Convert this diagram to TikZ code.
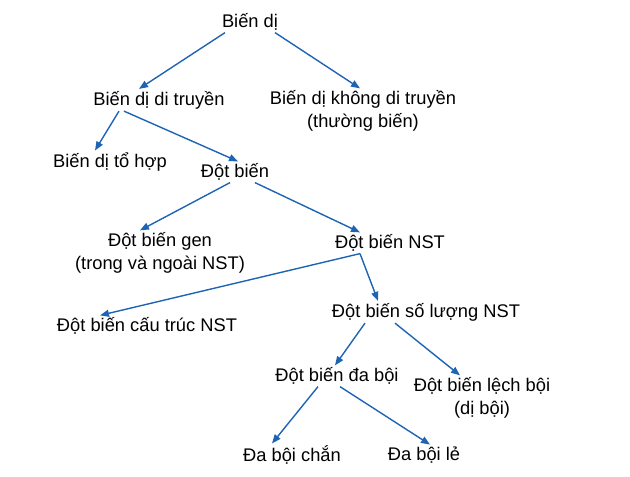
\documentclass[tikz,border=0pt]{standalone}
\usepackage{fontspec}
\setmainfont{Liberation Sans}
\usetikzlibrary{arrows.meta}
\definecolor{ablue}{RGB}{30,100,180}
\begin{document}
\begin{tikzpicture}[x=1pt,y=-1pt,
  lbl/.style={font=\fontsize{18.3}{23}\selectfont,align=center,inner sep=2pt,text=black},
  arr/.style={draw=ablue,line width=1.4pt,-{Triangle[length=9pt,width=7pt]}}]
\useasboundingbox (0,0) rectangle (630,477);
\node[lbl] (bd) at (250,22) {Biến dị};
\node[lbl] (dt) at (159,100) {Biến dị di truyền};
\node[lbl] (kdt) at (363,111) {Biến dị không di truyền\\(thường biến)};
\node[lbl] (th) at (110,162) {Biến dị tổ hợp};
\node[lbl] (db) at (235,172) {Đột biến};
\node[lbl] (gen) at (160,253) {Đột biến gen\\(trong và ngoài NST)};
\node[lbl] (nst) at (390,243) {Đột biến NST};
\node[lbl] (ct) at (147,326) {Đột biến cấu trúc NST};
\node[lbl] (sl) at (426,312) {Đột biến số lượng NST};
\node[lbl] (dab) at (337,376) {Đột biến đa bội};
\node[lbl] (lb) at (482,398) {Đột biến lệch bội\\(dị bội)};
\node[lbl] (ch) at (292,455) {Đa bội chắn};
\node[lbl] (le) at (424,455) {Đa bội lẻ};
\draw[arr] ([xshift=-25pt]bd.south) -- ([xshift=-20pt]dt.north);
\draw[arr] ([xshift=25pt]bd.south) -- ([xshift=-3pt]kdt.north);
\draw[arr] ([xshift=-40pt]dt.south) -- ([xshift=-15pt]th.north);
\draw[arr] ([xshift=-35pt]dt.south) -- ([xshift=3pt]db.north);
\draw[arr] ([xshift=-5pt]db.south) -- ([xshift=-20pt]gen.north);
\draw[arr] ([xshift=20pt]db.south) -- ([xshift=-30pt]nst.north);
\draw[arr] ([xshift=-30pt]nst.south) -- ([xshift=-47pt]ct.north);
\draw[arr] ([xshift=-30pt]nst.south) -- ([xshift=-48pt]sl.north);
\draw[arr] ([xshift=-61pt]sl.south) -- ([xshift=-2pt]dab.north);
\draw[arr] ([xshift=-31pt]sl.south) -- ([xshift=-22pt]lb.north);
\draw[arr] ([xshift=-19pt]dab.south) -- ([xshift=-20pt]ch.north);
\draw[arr] ([xshift=3pt]dab.south) -- ([xshift=6pt]le.north);
\end{tikzpicture}
\end{document}
